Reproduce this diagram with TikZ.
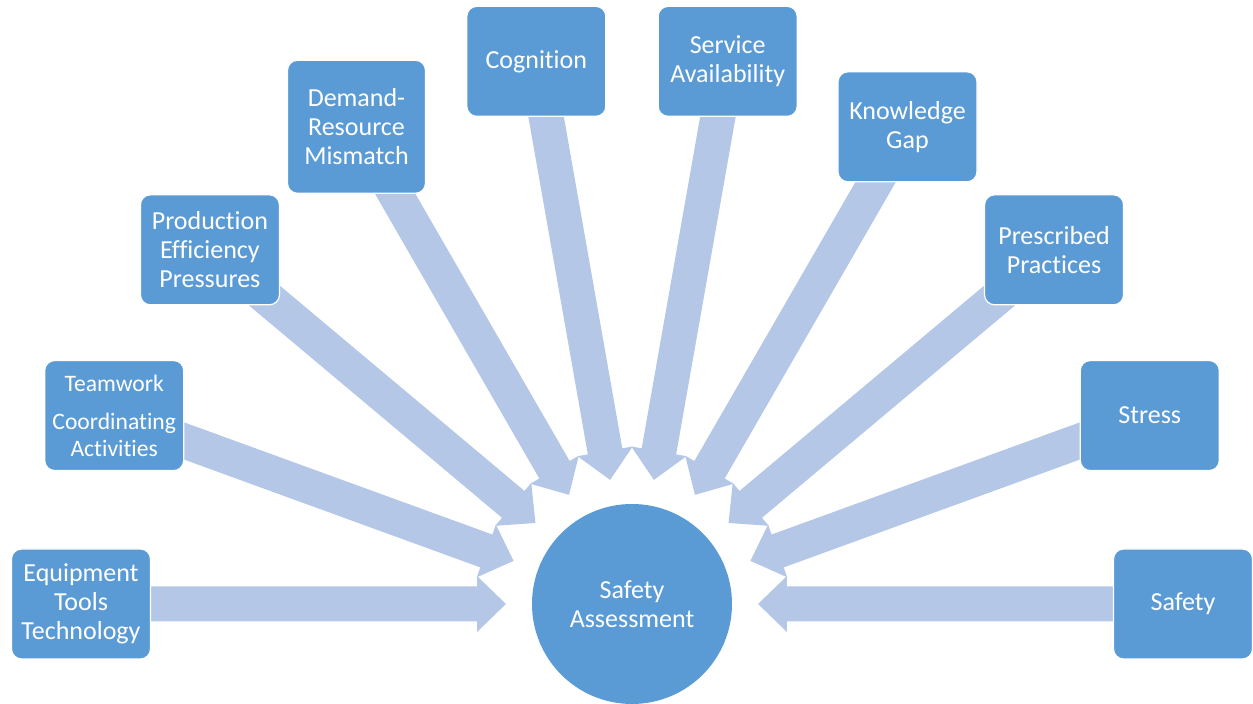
\documentclass[tikz,border=0pt]{standalone}
\usepackage{fontspec}
\setmainfont{Carlito}[Ligatures=NoCommon]
\usetikzlibrary{calc}
\definecolor{boxblue}{HTML}{5B9BD5}
\definecolor{arrowblue}{HTML}{B4C7E7}
\begin{document}
\begin{tikzpicture}[x=0.5pt,y=0.5pt,
  box/.style={rectangle, rounded corners=5pt, fill=boxblue, draw=white, line width=0.6pt,
    minimum width=69.5pt, minimum height=55pt, align=center, text=white, inner sep=1pt,
    font=\fontsize{13}{14.5}\selectfont},
  hub/.style={circle, fill=boxblue, minimum size=100pt, align=center, text=white, inner sep=0pt,
    font=\fontsize{13}{14.5}\selectfont},
  arrowfill/.style={fill=arrowblue}]
\useasboundingbox (-632,-100) rectangle (621,604);
\node[hub] (sa) at (0,0) {Safety\\Assessment};
\foreach \a [count=\i] in {0,20,...,180}{
  \coordinate (p\i) at (\a:551);
}
\foreach \i in {1,...,10}{
  \fill[arrowfill]
    ($(sa)!0.9619!(p\i)!8.75pt!90:(p\i)$) --
    ($(sa)!0.2813!(p\i)!8.75pt!90:(p\i)$) --
    ($(sa)!0.2813!(p\i)!14pt!90:(p\i)$) --
    ($(sa)!0.2287!(p\i)$) --
    ($(sa)!0.2813!(p\i)!14pt!-90:(p\i)$) --
    ($(sa)!0.2813!(p\i)!8.75pt!-90:(p\i)$) --
    ($(sa)!0.9619!(p\i)!8.75pt!-90:(p\i)$) -- cycle;
}
\node[box] (b1) at (p1) {Safety};
\node[box] (b2) at (p2) {Stress};
\node[box] (b3) at (p3) {Prescribed\\Practices};
\node[box] (b4) at (p4) {Knowledge\\Gap};
\node[box] (b5) at (p5) {Service\\Availability};
\node[box] (b6) at (p6) {Cognition};
\node[box, minimum height=66.5pt, minimum width=69pt] (b7) at (p7) {Demand-\\Resource\\Mismatch};
\node[box] (b8) at (p8) {Production\\Efficiency\\Pressures};
\node[box, font=\fontsize{11.8}{13.3}\selectfont] (b9) at (p9) {Teamwork\\[6pt]Coordinating\\Activities};
\node[box] (b10) at (p10) {Equipment\\Tools\\Technology};
\end{tikzpicture}
\end{document}
